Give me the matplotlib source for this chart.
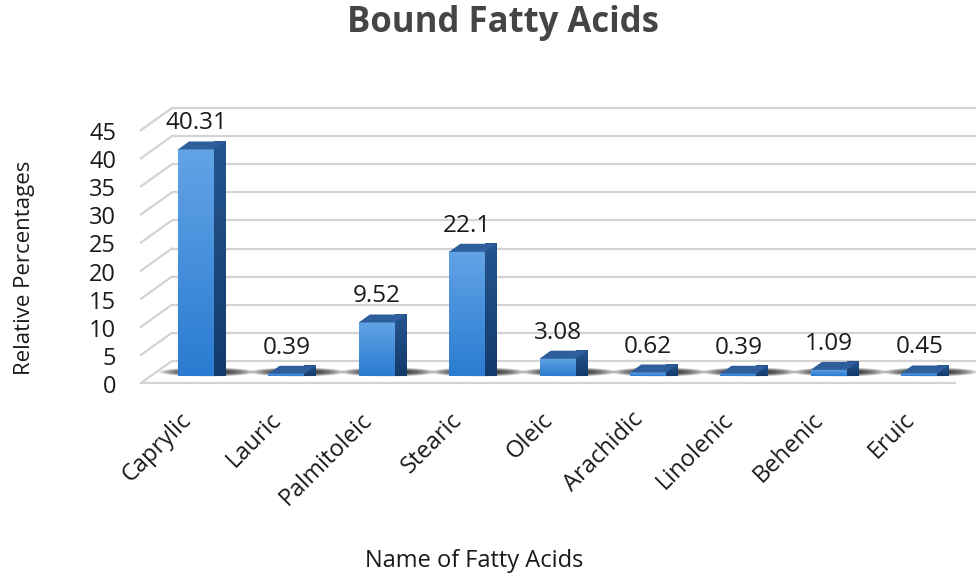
import numpy as np
import matplotlib
matplotlib.use("Agg")
import matplotlib.pyplot as plt
from matplotlib.patches import Polygon, Ellipse
from matplotlib.colors import to_rgb

# ---- data ----
acids = ["Caprylic", "Lauric", "Palmitoleic", "Stearic", "Oleic",
         "Arachidic", "Linolenic", "Behenic", "Eruic"]
values = [40.31, 0.39, 9.52, 22.1, 3.08, 0.62, 0.39, 1.09, 0.45]
value_labels = ["40.31", "0.39", "9.52", "22.1", "3.08", "0.62", "0.39", "1.09", "0.45"]
y_ticks = [0, 5, 10, 15, 20, 25, 30, 35, 40, 45]

title = "Bound Fatty Acids"
x_title = "Name of Fatty Acids"
y_title = "Relative Percentages"

plt.rcParams["font.family"] = ["Open Sans", "DejaVu Sans"]

W, H = 976, 573
fig = plt.figure(figsize=(W / 100, H / 100), dpi=100)
fig.patch.set_facecolor("white")

# plot area (front plane of the bars), in figure pixels
ax_left, ax_right = 150.8, 964.4
ax_bottom, ax_top = 376.0, 123.1
ax = fig.add_axes([ax_left / W, (H - ax_bottom) / H,
                   (ax_right - ax_left) / W, (ax_bottom - ax_top) / H])
xmin, xmax = -0.5, len(acids) - 0.5
ymin, ymax = 0, 45
ax.set_xlim(xmin, xmax)
ax.set_ylim(ymin, ymax)
ax.axis("off")

# data units per screen pixel
ux = (xmax - xmin) / (ax_right - ax_left)
uy = (ymax - ymin) / (ax_bottom - ax_top)


def depth(x, y, d):
    """Shift a point (x, y) backwards into the chart by d pixels."""
    return x + 1.4 * d * ux, y + d * uy


GRID = "#d3d3d3"
TEXT = "#1a1a1a"
FLOOR_FRONT, BAR_BACK, WALL = -7, 8, 15

# back wall gridlines and the left side wall
for v in y_ticks:
    x0, y0 = depth(xmin, v, WALL)
    x1, y1 = depth(xmax + 0.5, v, WALL)
    ax.plot([x0, x1], [y0, y1], color=GRID, lw=1.6, clip_on=False, zorder=1,
            solid_capstyle="butt")
    xa, ya = depth(xmin, v, FLOOR_FRONT)
    ax.plot([xa, x0], [ya, y0], color=GRID, lw=1.6, clip_on=False, zorder=1)

# front edge of the floor
xa, ya = depth(xmin, 0, FLOOR_FRONT)
xb, yb = depth(xmax, 0, FLOOR_FRONT)
ax.plot([xa, xb], [ya, yb], color=GRID, lw=1.6, clip_on=False, zorder=1)

# soft floor shadows under each bar
for i in range(len(acids)):
    cx, cy = depth(i + 0.06, 0, 4)
    for k in range(12):
        f = 1 - k / 12
        e = Ellipse((cx, cy), width=(34 + 62 * f) * ux, height=(2 + 7 * f) * uy,
                    facecolor="black", edgecolor="none", alpha=0.11,
                    clip_on=False, zorder=2)
        ax.add_patch(e)


def vgrad(top, bottom, n=64):
    t = np.linspace(0, 1, n)[:, None, None]
    a = np.array(to_rgb(top))[None, None, :]
    b = np.array(to_rgb(bottom))[None, None, :]
    g = a * (1 - t) + b * t
    return np.repeat(g, 2, axis=1)


half = 0.2
for i, v in enumerate(values):
    xl, xr = i - half, i + half
    # front face
    ax.imshow(vgrad("#62a3e6", "#2a7bd1"), extent=[xl, xr, 0, v],
              aspect="auto", origin="upper", interpolation="bilinear",
              zorder=4, clip_on=False)
    # side face
    side = [(xr, 0), (xr, v), depth(xr, v, BAR_BACK), depth(xr, 0, BAR_BACK)]
    sp = Polygon(side, closed=True, facecolor="none", edgecolor="none")
    ax.add_patch(sp)
    sx1, sy1 = depth(xr, v, BAR_BACK)
    im2 = ax.imshow(vgrad("#24558f", "#143a6b"), extent=[xr, sx1, 0, sy1],
                    aspect="auto", origin="upper", interpolation="bilinear",
                    zorder=4, clip_on=False)
    im2.set_clip_path(sp)
    # top face
    top = [(xl, v), (xr, v), depth(xr, v, BAR_BACK), depth(xl, v, BAR_BACK)]
    ax.add_patch(Polygon(top, closed=True, facecolor="#2e5e9b",
                         edgecolor="none", zorder=5, clip_on=False))
    # value label
    ax.text(i, v + (BAR_BACK + 12) * uy, value_labels[i], ha="center",
            va="baseline", fontsize=17.5, color=TEXT, zorder=6, clip_on=False)

ax.set_xlim(xmin, xmax)
ax.set_ylim(ymin, ymax)

# value axis labels on the left wall
for v in y_ticks:
    tx, ty = depth(xmin, v, FLOOR_FRONT)
    ax.text(tx - 25 * ux, ty - 4 * uy, str(v), ha="right", va="center",
            fontsize=17, color=TEXT, clip_on=False)

# category labels
for i, name in enumerate(acids):
    ax.text(i - 17 * ux, -32 * uy, name, ha="right", va="top", rotation=45,
            rotation_mode="anchor", fontsize=17, color=TEXT, clip_on=False)

fig.text(503 / W, 1 - 32 / H, title, ha="center", va="baseline",
         fontsize=25, fontweight="bold", color="#454545")
fig.text(474 / W, 1 - 567 / H, x_title, ha="center", va="baseline",
         fontsize=17, color=TEXT)
fig.text(25 / W, 1 - 268 / H, y_title, ha="center", va="center",
         rotation=90, fontsize=16, color=TEXT)

fig.savefig("out.png", dpi=100, facecolor="white")
